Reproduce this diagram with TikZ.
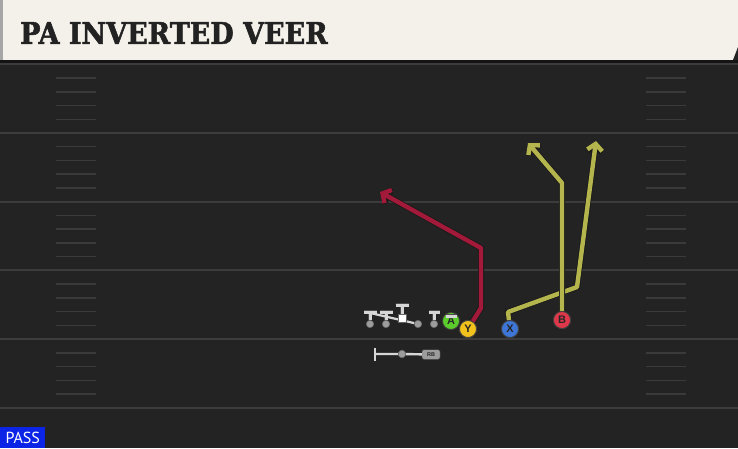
\documentclass[tikz,border=0pt]{standalone}
\usepackage{fontspec}
\setsansfont{Liberation Sans}
\newfontfamily\titlefont[FakeStretch=0.9, BoldFeatures={FakeBold=1.6}]{DejaVu Serif}
\newfontfamily\tagfont{PT Sans}
\usetikzlibrary{
arrows.meta,
positioning
}
\tikzset{>=latex}
\definecolor{field}{HTML}{232323}
\definecolor{shadowband}{HTML}{141414}
\definecolor{yardgray}{HTML}{3C3C3C}
\definecolor{hashgray}{HTML}{3A3A3A}
\definecolor{cream}{HTML}{F4F1EA}
\definecolor{titleink}{HTML}{222222}
\definecolor{passblue}{HTML}{0C24E6}
\definecolor{routeyellow}{HTML}{B5B54E}
\definecolor{routered}{HTML}{A3193A}
\definecolor{manA}{HTML}{5CCB2C}
\definecolor{manY}{HTML}{F2C21C}
\definecolor{manX}{HTML}{3D76D6}
\definecolor{manB}{HTML}{E0384A}
\definecolor{oline}{HTML}{D6D6D6}
\definecolor{odot}{HTML}{9C9C9C}

\begin{document}
\begin{tikzpicture}[x=1pt, y=-1pt, font=\sffamily,
	yardline/.style={draw=yardgray, line width=2pt},
	hashmark/.style={draw=hashgray, line width=1.5pt},
	player/.style={circle, draw=black!75, line width=0.8pt, minimum size=17pt, inner sep=0pt, text=black!85, font=\sffamily\bfseries\fontsize{11}{11}\selectfont},
	olman/.style={circle, fill=odot, draw=black!60, line width=0.5pt, minimum size=7.5pt, inner sep=0pt},
	obar/.style={draw=oline, line width=3pt, preaction={draw=black!70, line width=4pt}},
	route/.style={line width=4.4pt, line join=round, preaction={draw=black!90, line width=6pt}, -{Straight Barb[length=6.5pt, width=15pt]}}]
		\useasboundingbox (0,0) rectangle (738,448);
		\fill[field] (0,0) rectangle (738,448);
		\fill[shadowband] (0,60) rectangle (738,64);
		\fill[cream] (0,0) rectangle (738,60);
		\fill[black!35] (0,0) rectangle (3,60);
		\fill[field] (738,47) -- (738,60) -- (733,60) -- cycle;
		\node[anchor=west, text=titleink, inner sep=0pt, font=\titlefont\bfseries\fontsize{30}{30}\selectfont] (title) at (20,33) {PA INVERTED VEER};
		
		\foreach \j in {0,...,5} {
			\draw[yardline] (0,64.3+68.7*\j) -- (738,64.3+68.7*\j);
		}
		\foreach \j in {0,...,4} {
			\foreach \i in {1,...,4} {
				\draw[hashmark] (56,64.3+68.7*\j+13.74*\i) -- (96,64.3+68.7*\j+13.74*\i);
				\draw[hashmark] (646,64.3+68.7*\j+13.74*\i) -- (686,64.3+68.7*\j+13.74*\i);
			}
		}
		
		\node[olman] (lt) at (370,324) {};
		\node[olman] (lg) at (386,324) {};
		\node[draw=black!60, fill=white, minimum size=7.5pt, inner sep=0pt] (ctr) at (402,318) {};
		\node[olman] (rg) at (418,324) {};
		\node[olman] (rt) at (434,324) {};
		\draw[obar] (lt) -- ++(0,-12) coordinate (ltTop);
		\draw[obar] ([xshift=-6.5]ltTop) -- ([xshift=6.5]ltTop);
		\draw[obar] (lg) -- ++(0,-12) coordinate (lgTop);
		\draw[obar] ([xshift=-6.5]lgTop) -- ([xshift=6.5]lgTop);
		\draw[obar] (ctr) -- ++(0,-13) coordinate (ctrTop);
		\draw[obar] ([xshift=-6.5]ctrTop) -- ([xshift=6.5]ctrTop);
		\draw[obar] (rt) -- ++(0,-12) coordinate (rtTop);
		\draw[obar] ([xshift=-5.5]rtTop) -- ([xshift=5.5]rtTop);
		\draw[oline, line width=2.2pt] ([xshift=-4]ltTop) -- (rg);
		\node[draw=black!60, fill=white, minimum size=7.5pt, inner sep=0pt] at (ctr) {};
		
		\node[player, fill=manA] (A) at (451,321) {A};
		\draw[obar] ([xshift=-5.5,yshift=-4]A.north) -- ([xshift=5.5,yshift=-4]A.north);
		\node[player, fill=manY] (Y) at (468,329) {Y};
		\node[player, fill=manX] (X) at (510,329) {X};
		\node[player, fill=manB] (B) at (562,320) {B};
		
		\node[olman] (rb) at (402,354) {};
		\node[draw=black!70, fill=odot, rounded corners=2pt, minimum width=18pt, minimum height=9.5pt, inner sep=0pt, text=black!85, font=\sffamily\bfseries\fontsize{5.5}{5.5}\selectfont] (rbtag) at (431,354.5) {RB};
		\coordinate (rbEnd) at (375,354);
		\draw[oline, line width=2.4pt] (rbEnd) -- (rb) -- (rbtag);
		\draw[oline, line width=2.6pt] ([yshift=-6.5]rbEnd) -- ([yshift=6.5]rbEnd);
		\node[olman] at (rb) {};
		
		\coordinate (yEnd) at (380,192);
		\coordinate (xEnd) at (596,141);
		\coordinate (bEnd) at (528,143);
		\draw[route, routered] (Y) -- (481,308) -- (481,248) -- (yEnd);
		\draw[route, routeyellow] (X) -- (508,312) -- (577,287) -- (xEnd);
		\draw[route, routeyellow] (B) -- (562,183) -- (bEnd);
		\node[player, fill=manY] at (Y) {Y};
		\node[player, fill=manX] at (X) {X};
		\node[player, fill=manB] at (B) {B};
		
		\node[fill=passblue, text=white, minimum width=45pt, minimum height=20.5pt, inner sep=0pt, anchor=south west, font=\tagfont\fontsize{16}{16}\selectfont] (pass) at (0,448) {PASS};
	\end{tikzpicture}
\end{document}
